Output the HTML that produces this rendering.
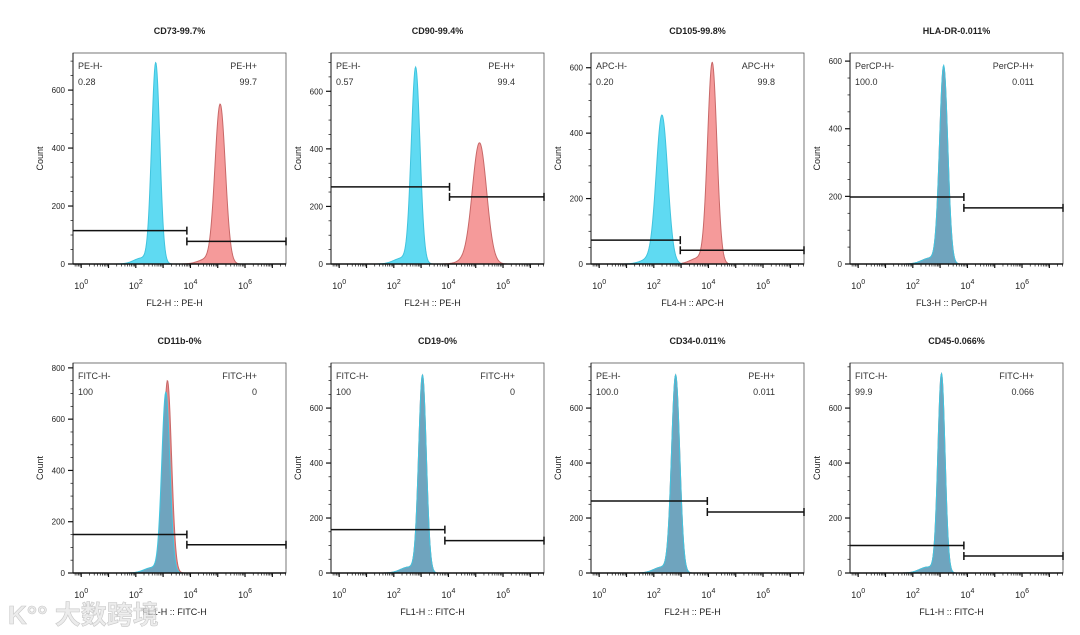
<!DOCTYPE html>
<html><head><meta charset="utf-8">
<style>
html,body{margin:0;padding:0;background:#fff;}
svg{display:block;font-family:"Liberation Sans",Arial,sans-serif;}
</style></head>
<body>
<svg id="c" width="1080" height="635" viewBox="0 0 1080 635"></svg>
<script>
const titles = ["CD73-99.7%","CD90-99.4%","CD105-99.8%","HLA-DR-0.011%","CD11b-0%","CD19-0%","CD34-0.011%","CD45-0.066%"];
const xAxisLabels = ["FL2-H :: PE-H","FL2-H :: PE-H","FL4-H :: APC-H","FL3-H :: PerCP-H","FL1-H :: FITC-H","FL1-H :: FITC-H","FL2-H :: PE-H","FL1-H :: FITC-H"];
const negLabels = ["PE-H-","PE-H-","APC-H-","PerCP-H-","FITC-H-","FITC-H-","PE-H-","FITC-H-"];
const posLabels = ["PE-H+","PE-H+","APC-H+","PerCP-H+","FITC-H+","FITC-H+","PE-H+","FITC-H+"];
const negValues = ["0.28","0.57","0.20","100.0","100","100","100.0","99.9"];
const posValues = ["99.7","99.4","99.8","0.011","0","0","0.011","0.066"];
const yMaxCounts = [728,733,645,624,819,764,764,764];
const yTickValues = [[0,200,400,600],[0,200,400,600],[0,200,400,600],[0,200,400,600],[0,200,400,600,800],[0,200,400,600],[0,200,400,600],[0,200,400,600]];
const xTickExps = [0,2,4,6];
// control (isotype) peak: log10 center, height, sigma
const controlCenters = [2.73,2.80,2.30,3.13,3.10,3.05,2.80,3.05];
const controlHeights = [690,679,452,583,700,715,715,720];
const controlSigmas = [0.15,0.16,0.21,0.15,0.15,0.14,0.15,0.13];
// sample peak
const sampleCenters = [5.09,5.14,4.14,3.13,3.16,3.05,2.80,3.05];
const sampleHeights = [548,418,612,580,745,715,715,720];
const sampleSigmas = [0.19,0.26,0.17,0.15,0.15,0.14,0.15,0.13];
// gates: negative gate count level, positive gate count level, boundary (log10)
const negGateCounts = [115,268,73,198,150,158,262,100];
const posGateCounts = [78,233,42,166,110,118,222,62];
const gateBoundaries = [3.87,4.04,2.97,3.87,3.87,3.87,3.96,3.87];

const NS="http://www.w3.org/2000/svg";
const svg=document.getElementById('c');
function el(tag,attrs,parent){const e=document.createElementNS(NS,tag);for(const k in attrs)e.setAttribute(k,attrs[k]);(parent||svg).appendChild(e);return e;}

const lefts=[73,331,591,850];
const W=213, LOGMIN=-0.3, LOGMAX=7.5;
const rows=[{top:53,bottom:264},{top:363,bottom:573}];

for(let i=0;i<8;i++){
  const L=lefts[i%4], R=rows[Math.floor(i/4)], T=R.top, B=R.bottom, H=B-T;
  const g=el('g',{});
  
  
  const xs=v=>L+(v-LOGMIN)/(LOGMAX-LOGMIN)*W;
  const ys=c=>B-c/yMaxCounts[i]*H;
  const t=el('text',{x:L+W/2,y:T-19,'text-anchor':'middle','font-size':9,'font-weight':'bold',fill:'#222'},g);
  t.textContent=titles[i];
  
  
  const box=el('rect',{x:L,y:T,width:W,height:H,fill:'none',stroke:'#555','stroke-width':0.8},g);
  
  
  function curve(c,h,s){
    let d='M'+xs(LOGMIN)+','+B;
    for(let k=0;k<=400;k++){const v=LOGMIN+(LOGMAX-LOGMIN)*k/400;
      const z=(v-c)/s; let y=h*Math.exp(-0.5*z*z)+h*0.03*Math.exp(-0.5*((v-c+0.5)/0.3)**2);
      d+=' L'+xs(v).toFixed(2)+','+ys(y).toFixed(2);}
    return d+' L'+xs(LOGMAX)+','+B+' Z';
  }
  const overlap=Math.abs(controlCenters[i]-sampleCenters[i])<0.3;
  const sp=el('path',{d:curve(sampleCenters[i],sampleHeights[i],sampleSigmas[i]),fill:overlap?'#e58a8a':'#f59a9a',stroke:'#c86868','stroke-width':1},g);
  
  
  const cp=el('path',{d:curve(controlCenters[i],controlHeights[i],controlSigmas[i]),fill:overlap?'#6fa4be':'#5fdaf2',stroke:'#40c4de','stroke-width':1},g);
  
  
  // gates
  const ng=ys(negGateCounts[i]), pg=ys(posGateCounts[i]), gb=xs(gateBoundaries[i]);
  const gn=el('path',{d:`M${L},${ng} H${gb} M${gb},${ng-4} V${ng+4}`,stroke:'#111','stroke-width':1.5,fill:'none'},g);
  
  
  const gp=el('path',{d:`M${gb},${pg} H${L+W} M${gb},${pg-4} V${pg+4} M${L+W},${pg-4} V${pg+4}`,stroke:'#111','stroke-width':1.5,fill:'none'},g);
  
  
  // quadrant labels
  const q=[[negLabels[i],L+5,T+16,'start'],[negValues[i],L+5,T+32,'start'],[posLabels[i],L+W-29,T+16,'end'],[posValues[i],L+W-29,T+32,'end']];
  q.forEach((a,j)=>{const tx=el('text',{x:a[1],y:a[2],'font-size':9,fill:'#333','text-anchor':a[3]},g);tx.textContent=a[0];
    
    });
  // x axis
  el('line',{x1:L,x2:L+W,y1:B,y2:B,stroke:'#111','stroke-width':1.6},g);
  for(let e=-1;e<8;e++){
    for(let m=1;m<10;m++){const v=e+Math.log10(m); if(v<LOGMIN||v>LOGMAX)continue;
      el('line',{x1:xs(v),x2:xs(v),y1:B,y2:B+(m==1?4:2.5),stroke:'#111','stroke-width':m==1?1.2:0.7},g);}
  }
  xTickExps.forEach(e=>{const tx=el('text',{x:xs(e),y:B+25,'font-size':9,fill:'#222','text-anchor':'middle'},g);
    tx.textContent='10';const s=el('tspan',{dy:-5,'font-size':7},tx);s.textContent=String(e);
    });
  const xl=el('text',{x:L+W/2-5,y:B+42,'font-size':9,fill:'#222','text-anchor':'middle'},g);
  xl.textContent=xAxisLabels[i];
  
  
  // y axis
  el('line',{x1:L,x2:L,y1:T,y2:B,stroke:'#111','stroke-width':1},g);
  const step=yTickValues[i][1]/4;
  for(let c=0;c<=yMaxCounts[i];c+=step){el('line',{x1:L-(c%yTickValues[i][1]==0?5:2.5),x2:L,y1:ys(c),y2:ys(c),stroke:'#111','stroke-width':c%yTickValues[i][1]==0?1.2:0.7},g);}
  yTickValues[i].forEach(c=>{const tx=el('text',{x:L-8,y:ys(c)+3,'font-size':8,fill:'#222','text-anchor':'end'},g);tx.textContent=String(c);
    });
  const yl=el('text',{x:0,y:0,'font-size':9,fill:'#222','text-anchor':'middle',transform:`translate(${L-30},${(T+B)/2}) rotate(-90)`},g);
  yl.textContent='Count';
  
  
}
const wm=el('text',{x:8,y:624,'font-size':26,fill:'#e4e4e4','font-weight':'bold','font-family':'"Liberation Sans","Noto Sans CJK SC",sans-serif',stroke:'#c8c8c8','stroke-width':0.6,'fill-opacity':0.7});
wm.textContent='K°° 大数跨境';


</script>
</body></html>
